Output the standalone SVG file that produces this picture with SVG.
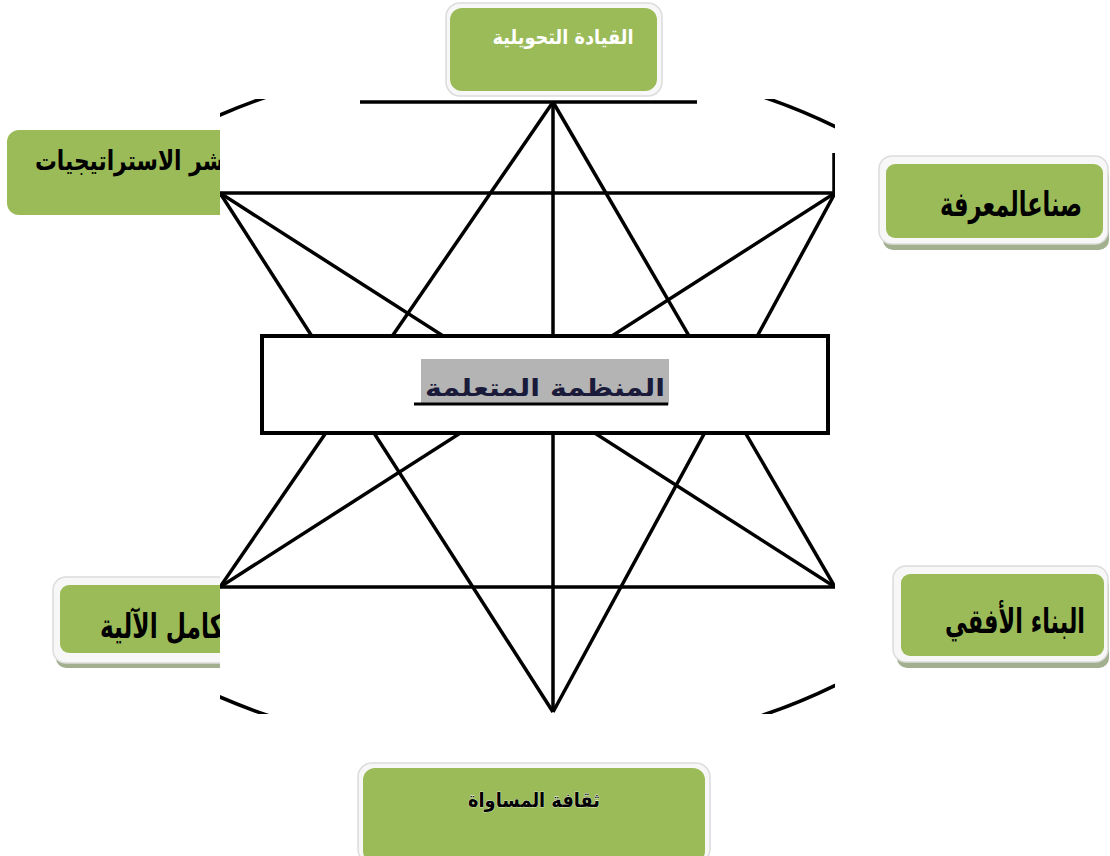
<svg xmlns="http://www.w3.org/2000/svg" width="1110" height="856" viewBox="0 0 1110 856">
<style>
.frame{fill:#f7f7f7;stroke:#dcdcdc;stroke-width:1.5}
.shadow{fill:#a3b08f}
.box{fill:#9BBB59}
.lbl{font-family:"DejaVu Sans",sans-serif;font-weight:bold;fill:#000;text-anchor:middle}
.ln{stroke:#000;stroke-width:3.5;fill:none;stroke-linecap:butt}
</style>
<defs>
<clipPath id="clip"><rect x="220" y="99" width="615" height="615"/></clipPath>
</defs>
<rect width="1110" height="856" fill="#fff"/>

<g id="node-top">
<rect class="frame" x="446" y="3" width="216" height="93" rx="14"/>
<rect class="box" x="450" y="8" width="207" height="83" rx="12"/>
<text class="lbl" x="563" y="44" font-size="20" style="fill:#fff" textLength="141" lengthAdjust="spacingAndGlyphs">القيادة التحويلية</text>
</g>

<g id="node-left-top">
<rect class="box" x="7" y="130" width="240" height="85" rx="12"/>
<text class="lbl" x="134" y="170" font-size="27" textLength="198" lengthAdjust="spacingAndGlyphs">نشر الاستراتيجيات</text>
</g>

<g id="node-right-top">
<rect class="shadow" x="883" y="166" width="226" height="84" rx="10"/>
<rect class="frame" x="879" y="156" width="229" height="88" rx="13"/>
<rect class="box" x="886" y="164" width="217" height="74" rx="9"/>
<text class="lbl" x="1011" y="216" font-size="34" textLength="142" lengthAdjust="spacingAndGlyphs">صناعالمعرفة</text>
</g>

<g id="node-left-bottom">
<rect class="shadow" x="56" y="586" width="180" height="82" rx="10"/>
<rect class="frame" x="53" y="577" width="183" height="86" rx="13"/>
<rect class="box" x="60" y="585" width="172" height="68" rx="9"/>
<text class="lbl" x="166" y="638" font-size="34" textLength="132" lengthAdjust="spacingAndGlyphs">تكامل الآلية</text>
</g>

<g id="node-right-bottom">
<rect class="shadow" x="897" y="576" width="212" height="92" rx="10"/>
<rect class="frame" x="893" y="566" width="215" height="96" rx="13"/>
<rect class="box" x="901" y="574" width="203" height="82" rx="9"/>
<text class="lbl" x="1015" y="633" font-size="34" textLength="140" lengthAdjust="spacingAndGlyphs">البناء الأفقي</text>
</g>

<g id="node-bottom">
<rect class="frame" x="358" y="763" width="352" height="100" rx="14"/>
<rect class="box" x="363" y="768" width="342" height="95" rx="12"/>
<text x="534" y="807" font-size="20" font-family="DejaVu Sans, sans-serif" font-weight="bold" text-anchor="middle" fill="#000" stroke="#fff" stroke-width="0.6" paint-order="stroke" textLength="132" lengthAdjust="spacingAndGlyphs">ثقافة المساواة</text>
</g>

<rect x="220" y="98" width="615" height="618" fill="#fff"/>

<g id="connectors" clip-path="url(#clip)">
<ellipse class="ln" cx="515" cy="406" rx="534" ry="349" stroke-width="3"/>
<line class="ln" x1="834" y1="153" x2="834" y2="193"/>
<line class="ln" x1="360" y1="102" x2="697" y2="102"/>
<line class="ln" x1="553" y1="102" x2="553" y2="712"/>
<line class="ln" x1="220" y1="193" x2="835" y2="193"/>
<line class="ln" x1="220" y1="587" x2="835" y2="587"/>
<line class="ln" x1="553" y1="102" x2="220" y2="587"/>
<line class="ln" x1="553" y1="102" x2="835" y2="587"/>
<line class="ln" x1="553" y1="712" x2="220" y2="193"/>
<line class="ln" x1="553" y1="712" x2="835" y2="193"/>
<line class="ln" x1="220" y1="193" x2="835" y2="587"/>
<line class="ln" x1="835" y1="193" x2="220" y2="587"/>
</g>

<g id="node-center">
<rect x="262" y="336" width="566" height="97" fill="#fff" stroke="#000" stroke-width="4"/>
<rect x="421" y="359" width="248" height="46" fill="#b4b4b4"/>
<text x="545" y="396" font-size="24" font-family="DejaVu Sans, sans-serif" font-weight="bold" text-anchor="middle" fill="#1a1a3a" textLength="240" lengthAdjust="spacingAndGlyphs">المنظمة المتعلمة</text>
<line x1="414" y1="404" x2="668" y2="404" stroke="#000" stroke-width="3"/>
</g>
</svg>
